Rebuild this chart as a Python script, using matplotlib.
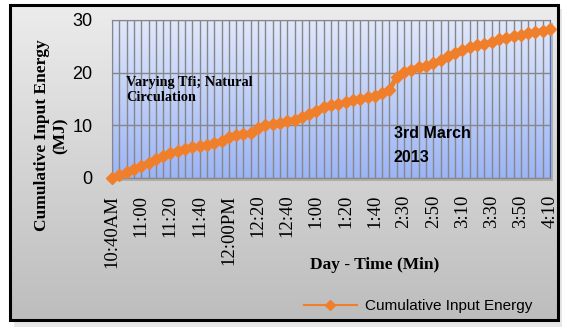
import numpy as np
import matplotlib.pyplot as plt
from matplotlib.patches import Rectangle
from matplotlib.lines import Line2D
from matplotlib.colors import LinearSegmentedColormap

# Cumulative input energy (MJ), one reading per category
energy = [0.0, 0.6, 1.2, 1.8, 2.3, 2.9, 3.6, 4.2, 4.8, 5.2,
          5.6, 5.9, 6.1, 6.3, 6.6, 7.1, 7.8, 8.1, 8.3, 8.6,
          9.4, 10.0, 10.3, 10.5, 10.8, 11.1, 11.5, 12.1, 12.8, 13.4,
          13.8, 14.1, 14.4, 14.8, 15.0, 15.3, 15.6, 16.1, 16.7, 19.2,
          20.1, 20.6, 21.0, 21.3, 21.8, 22.4, 23.1, 23.7, 24.3, 24.9,
          25.2, 25.5, 25.9, 26.3, 26.6, 26.9, 27.2, 27.5, 27.8, 28.0,
          28.3]
tick_labels = ['10:40AM', '11:00', '11:20', '11:40', '12:00PM', '12:20',
               '12:40', '1:00', '1:20', '1:40', '2:30', '2:50', '3:10',
               '3:30', '3:50', '4:10']
label_step = 4
y_ticks = [0, 10, 20, 30]

W, H = 569, 332
fig = plt.figure(figsize=(W / 100, H / 100), dpi=100)
fig.patch.set_facecolor('white')

# chart area background with frame
bg = fig.add_axes([0, 0, 1, 1], zorder=0)
bg.set_xlim(0, W)
bg.set_ylim(H, 0)
bg.axis('off')
bg.add_patch(Rectangle((14, 9), 548, 318, color='#d8d8d8', alpha=0.6, lw=0))
grad = np.linspace(0, 1, 256).reshape(-1, 1)
bg.imshow(grad, extent=(10, 558, 320, 5),
          cmap=LinearSegmentedColormap.from_list('g', ['#ececec', '#bdbdbd']),
          aspect='auto', zorder=1)
bg.add_patch(Rectangle((10, 5), 548, 315, fill=False, ec='black', lw=2.2, zorder=2))
bg.add_patch(Rectangle((115, 23), 438, 158, color='#8a8a8a', alpha=0.5, lw=0, zorder=1.5))

ax = fig.add_axes([112 / W, 1 - 178 / H, 438 / W, 158 / H], zorder=1)
x = np.arange(len(energy))
ax.imshow(grad, extent=(0, len(energy) - 1, 0, 30),
          cmap=LinearSegmentedColormap.from_list('p', ['#e1e8fb', '#9cb5f6']),
          aspect='auto', zorder=0)
ax.plot(x, energy, color='#f07f2c', lw=3.5, marker='D', ms=6.5, mec='#f07f2c', zorder=3,
        clip_on=False)
ax.set_xlim(0, len(energy) - 1)
ax.set_ylim(0, 30)
ax.set_xticks(x, minor=True)
ax.set_xticks(x[::label_step])
ax.set_xticklabels(tick_labels, rotation=90, family='Liberation Serif', fontsize=13.5)
ax.set_yticks(y_ticks)
ax.set_yticklabels([str(v) for v in y_ticks], family='Liberation Sans', fontsize=13)
ax.tick_params(which='both', length=0)
ax.tick_params(axis='x', pad=12)
ax.tick_params(axis='y', pad=14)
ax.grid(True, which='both', axis='x', color='#878787', lw=1)
ax.grid(True, axis='y', color='#878787', lw=1)
ax.set_axisbelow(False)
for s in ax.spines.values():
    s.set_color('#4a74c9')
ax.spines['bottom'].set_color('#878787')

ax.set_ylabel('Cumulative Input Energy\n(MJ)', family='Liberation Serif', fontweight='bold',
              fontsize=12.5)
ax.yaxis.set_label_coords(-0.1, 0.27)
ax.set_xlabel('Day - Time (Min)', family='Liberation Serif', fontweight='bold', fontsize=12.5)
ax.xaxis.set_label_coords(0.6, -0.5)

fig.text(126 / W, 1 - 90 / H, 'Varying Tfi; Natural\nCirculation', family='Liberation Serif',
         fontweight='bold', fontsize=10.3, va='center', linespacing=1.2)
fig.text(394 / W, 1 - 145 / H, '3rd March\n2013', family='Liberation Sans', fontsize=11.5,
         fontweight='bold', va='center', linespacing=1.75)

handle = Line2D([], [], color='#f07f2c', lw=1.5, marker='D', ms=5)
fig.legend([handle], ['Cumulative Input Energy'], loc='center', bbox_to_anchor=(418 / W, 1 - 306 / H),
           frameon=False, prop={'family': 'Liberation Sans', 'size': 11}, handlelength=3.5,
           handletextpad=0.5)

fig.savefig('out.png', dpi=100)
